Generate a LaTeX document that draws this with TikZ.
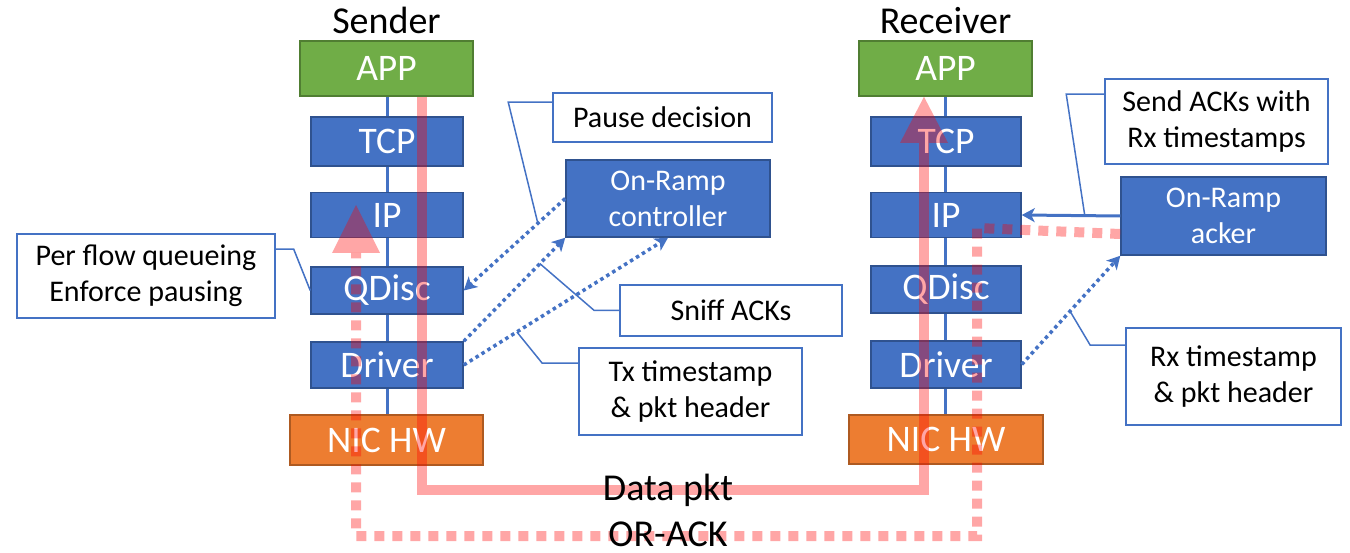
\documentclass[tikz,border=0pt]{standalone}
\usepackage{fontspec}
\setmainfont{Carlito}
\usetikzlibrary{arrows.meta,calc}
\definecolor{bfill}{HTML}{4472C4}
\definecolor{bdraw}{HTML}{2F528F}
\definecolor{gfill}{HTML}{70AD47}
\definecolor{gdraw}{HTML}{507E32}
\definecolor{ofill}{HTML}{ED7D31}
\definecolor{odraw}{HTML}{AE5A21}
\begin{document}
\begin{tikzpicture}[x=1pt,y=-1pt,
  layerbox/.style={draw=bdraw, fill=bfill, line width=1.5pt, text=white, inner sep=0pt,
    font=\fontsize{37.5}{40}\selectfont},
  appbox/.style={layerbox, draw=gdraw, fill=gfill},
  nicbox/.style={layerbox, draw=odraw, fill=ofill},
  orbox/.style={layerbox, align=center, font=\fontsize{30}{36}\selectfont},
  callout/.style={draw=bfill, fill=white, line width=1.5pt, text=black, inner sep=0pt,
    align=center, font=\fontsize{30}{36}\selectfont},
  leader/.style={draw=bfill, line width=1.5pt},
  stackline/.style={draw=bfill, line width=3pt},
  bluedot/.style={draw=bfill, line width=3.5pt, dash pattern=on 3.5pt off 3.5pt,
    -{Stealth[length=13pt,width=14pt,inset=3.5pt]}},
  bluesolid/.style={draw=bfill, line width=3pt, -{Stealth[length=13pt,width=14pt,inset=3.5pt]}},
  pinkline/.style={draw=red, draw opacity=0.35, line width=10pt, line join=miter},
  pinkdot/.style={pinkline, dash pattern=on 10pt off 8pt},
  pinkhead/.style={fill=red, fill opacity=0.35},
  title/.style={font=\fontsize{38}{40}\selectfont, inner sep=0pt, anchor=base}
]
\useasboundingbox (0,0) rectangle (1350,553);

% titles
\node[title] (sTitle) at (386.5,34) {Sender};
\node[title] (rTitle) at (945.5,34) {Receiver};

% stack lines (behind boxes)
\coordinate (sAxisTop) at (387,96);
\coordinate (sAxisBot) at (387,415);
\coordinate (rAxisTop) at (945.5,96);
\coordinate (rAxisBot) at (945.5,415);
\draw[stackline] (sAxisTop) -- (sAxisBot);
\draw[stackline] (rAxisTop) -- (rAxisBot);

% sender stack
\node[appbox, minimum width=173pt, minimum height=55pt] (sAPP) at (386.5,68.5) {APP};
\node[layerbox, minimum width=152pt, minimum height=49pt] (sTCP) at (387,141.5) {TCP};
\node[layerbox, minimum width=152pt, minimum height=45pt] (sIP) at (387,215) {IP};
\node[layerbox, minimum width=152pt, minimum height=47pt] (sQD) at (387,290.5) {QDisc};
\node[layerbox, minimum width=152pt, minimum height=46pt] (sDrv) at (387,365) {Driver};
\node[nicbox, minimum width=193pt, minimum height=50pt] (sNIC) at (386.5,440) {NIC HW};

% receiver stack
\node[appbox, minimum width=173pt, minimum height=55pt] (rAPP) at (945.5,68.5) {APP};
\node[layerbox, minimum width=150pt, minimum height=49pt] (rTCP) at (946,141.5) {TCP};
\node[layerbox, minimum width=150pt, minimum height=45pt] (rIP) at (946,215) {IP};
\node[layerbox, minimum width=150pt, minimum height=47pt] (rQD) at (946,289.5) {QDisc};
\node[layerbox, minimum width=150pt, minimum height=47pt] (rDrv) at (946,364.5) {Driver};
\node[nicbox, minimum width=194pt, minimum height=49pt] (rNIC) at (946,439.5) {NIC HW};

% On-Ramp boxes
\node[orbox, minimum width=204pt, minimum height=77pt] (ctrl) at (668,198.5) {On-Ramp\\controller};
\node[orbox, minimum width=205pt, minimum height=78pt] (acker) at (1223.5,216) {On-Ramp\\acker};

% callouts
\node[callout, minimum width=219pt, minimum height=49pt] (pause) at (662.5,117.5) {Pause decision};
\node[callout, minimum width=222pt, minimum height=51pt] (sniff) at (731,310.5) {Sniff ACKs};
\node[callout, minimum width=223pt, minimum height=87pt] (tx) at (690.5,391.5) {Tx timestamp\\\& pkt header};
\node[callout, minimum width=258pt, minimum height=84pt] (perflow) at (146,276) {Per flow queueing\\Enforce pausing};
\node[callout, minimum width=223pt, minimum height=85pt] (sendack) at (1216.5,121.5) {Send ACKs with\\Rx timestamps};
\node[callout, minimum width=215pt, minimum height=97pt] (rx) at (1233.5,376.5) {Rx timestamp\\\& pkt header};

% blue connectors
\draw[bluedot] (ctrl.west) -- coordinate[pos=0.27] (pPause) (sQD.east);
\draw[bluedot] (sDrv.north east) -- coordinate[pos=0.75] (pSniff) (ctrl.south west);
\draw[bluedot] (sDrv.east) -- coordinate[pos=0.26] (pTx) (ctrl.south);
\draw[bluedot] (rDrv.east) -- coordinate[pos=0.49] (pRx) (acker.south west);
\draw[bluesolid] (acker.west) -- coordinate[pos=0.36] (pSend) (rIP.east);

% leaders
\draw[leader] ($(pause.north west)+(0,10)$) -- ++(-44,0) -- (pPause);
\draw[leader] (sniff.west) -- ++(-25,0) -- (pSniff);
\draw[leader] ($(tx.north west)+(0,16)$) -- ++(-36,0) -- (pTx);
\draw[leader] ($(perflow.north east)+(0,16)$) -- ++(18,0) -- (sQD.west);
\draw[leader] ($(sendack.north west)+(0,16)$) -- ++(-38,0) -- (pSend);
\draw[leader] ($(rx.north west)+(0,18)$) -- ++(-35,0) -- (pRx);

% pink data path
\coordinate (dS) at (422,490);
\coordinate (dR) at (924,490);
\coordinate (dRbase) at (924,143);
\draw[pinkline] (sAPP.south -| dS) -- (dS) -- (dR) -- (dRbase);
\fill[pinkhead] ($(dRbase)+(-24,0)$) -- ($(dRbase)+(24,0)$) -- (rAPP.south -| dR) -- cycle;

% pink dotted ack path
\coordinate (aR1) at (977,228);
\coordinate (aR2) at (977,536);
\coordinate (aS1) at (356,536);
\coordinate (aSbase) at (356,253);
\coordinate (aStip) at (356,205);
\draw[pinkdot] ($(acker.west)+(0,18)$) -- (aR1) -- (aR2) -- (aS1) -- (aSbase);
\fill[pinkhead] ($(aSbase)+(-24,0)$) -- ($(aSbase)+(24,0)$) -- (aStip) -- cycle;

% path labels
\node[title] (dataLbl) at (668,500) {Data pkt};
\node[title] (ackLbl) at (668,546) {OR-ACK};
\end{tikzpicture}
\end{document}
